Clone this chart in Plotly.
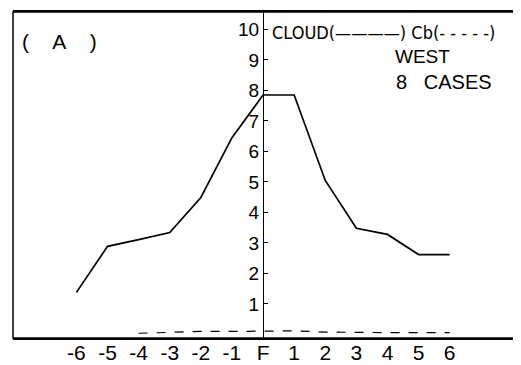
import plotly.graph_objects as go

hours = [-6, -5, -4, -3, -2, -1, 0, 1, 2, 3, 4, 5, 6]
x_labels = ["-6", "-5", "-4", "-3", "-2", "-1", "F", "1", "2", "3", "4", "5", "6"]
cloud = [1.38, 2.89, 3.11, 3.34, 4.49, 6.45, 7.85, 7.85, 5.05, 3.48, 3.28, 2.62, 2.62]
cb = [0.0, 0.0, 0.04, 0.08, 0.1, 0.1, 0.12, 0.12, 0.08, 0.06, 0.06, 0.06, 0.06]
y_ticks = list(range(1, 11))

FONT = "DejaVu Sans Condensed, Liberation Sans, sans-serif"
TICKFONT = "Liberation Sans, sans-serif"

xmin, xmax = -8.04, 8.10
ymin, ymax = -0.115, 10.57

fig = go.Figure()
fig.add_trace(go.Scatter(x=hours, y=cloud, mode="lines",
                         line=dict(color="black", width=1.7), name="CLOUD"))
fig.add_trace(go.Scatter(x=hours[2:], y=cb[2:], mode="lines",
                         line=dict(color="black", width=1.2, dash="dash"), name="Cb"))

pos = (0 - xmin) / (xmax - xmin)

# the page body adds an 8px offset, so the figure is 8px smaller than the window
fig.update_layout(
    width=513, height=357,
    margin=dict(l=5, r=6, t=4, b=27, autoexpand=False),
    paper_bgcolor="white", plot_bgcolor="white",
    showlegend=False,
    font=dict(family=FONT, color="black", size=18),
    xaxis=dict(range=[xmin, xmax], tickmode="array", tickvals=hours, ticktext=x_labels,
               showgrid=False, zeroline=False, showline=True, linecolor="black", linewidth=1.5,
               mirror=True, ticks="", ticklabelstandoff=-5, automargin=False,
               tickfont=dict(size=21, family=TICKFONT)),
    yaxis=dict(range=[ymin, ymax], anchor="free", position=pos, side="left",
               tickmode="array", tickvals=y_ticks, ticks="inside", ticklen=4,
               tickcolor="black", showline=True, linecolor="black", linewidth=1.2,
               showgrid=False, zeroline=False, automargin=False,
               tickfont=dict(size=19, family=TICKFONT)),
    shapes=[dict(type="rect", xref="paper", yref="paper", x0=0, y0=0, x1=1, y1=1,
                 line=dict(color="black", width=1.5))],
    annotations=[
        dict(text="(\u00a0\u00a0\u00a0\u00a0A\u00a0\u00a0\u00a0\u00a0)", xref="paper", yref="paper",
             x=0.092, y=0.91, xanchor="center", yanchor="middle", showarrow=False,
             font=dict(size=21, family=TICKFONT)),
        dict(text="CLOUD(————) Cb(- - - - -)", xref="paper", yref="paper", x=0.512, y=0.936,
             xanchor="left", yanchor="middle", showarrow=False, font=dict(size=18, family=FONT)),
        dict(text="WEST", xref="paper", yref="paper", x=0.815, y=0.862,
             xanchor="center", yanchor="middle", showarrow=False, font=dict(size=19, family=TICKFONT)),
        dict(text="8\u00a0\u00a0\u00a0CASES", xref="paper", yref="paper", x=0.759, y=0.785,
             xanchor="left", yanchor="middle", showarrow=False, font=dict(size=20, family=TICKFONT)),
    ],
)

fig.write_html("out.html")
